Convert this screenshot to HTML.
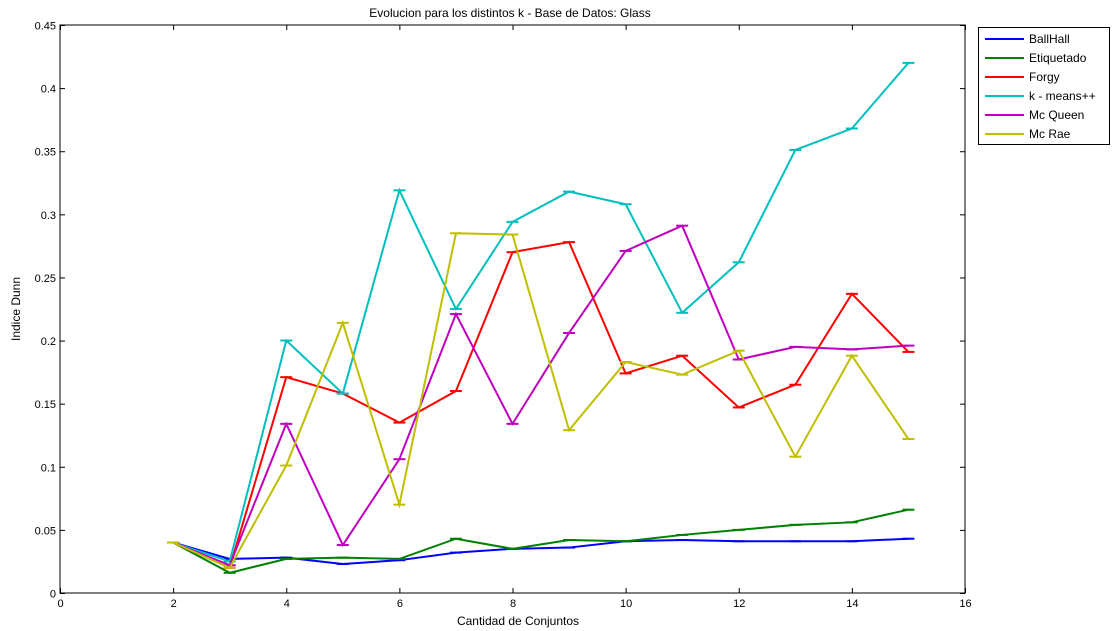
<!DOCTYPE html>
<html><head><meta charset="utf-8"><style>
body{margin:0;background:#fff;}
svg{display:block;font-family:"Liberation Sans",sans-serif;}
</style></head><body>
<svg id="chart" width="1113" height="631">
<rect x="0" y="0" width="1113" height="631" fill="#fff"/>
<text x="510" y="17" font-size="12" text-anchor="middle">Evolucion para los distintos k  - Base de Datos: Glass</text>
<text x="518" y="625" font-size="12" text-anchor="middle">Cantidad de Conjuntos</text>
<text x="20" y="309" font-size="12" text-anchor="middle" transform="rotate(-90 20 309)">Indice Dunn</text>
<g id="axes"></g>
<g id="series"></g>
<g id="legend"></g>
</svg>
<script>
const xs = [2,3,4,5,6,7,8,9,10,11,12,13,14,15];
const seriesNames = ["BallHall","Etiquetado","Forgy","k - means++","Mc Queen","Mc Rae"];
const seriesColors = ["#0000ff","#008000","#ff0000","#00bfbf","#bf00bf","#bfbf00"];
const ballHall = [0.040,0.027,0.028,0.023,0.026,0.032,0.035,0.036,0.041,0.042,0.041,0.041,0.041,0.043];
const etiquetado = [0.040,0.016,0.027,0.028,0.027,0.043,0.035,0.042,0.041,0.046,0.050,0.054,0.056,0.066];
const forgy = [0.040,0.020,0.171,0.158,0.135,0.160,0.270,0.278,0.174,0.188,0.147,0.165,0.237,0.191];
const kmeanspp = [0.040,0.025,0.200,0.158,0.319,0.225,0.294,0.318,0.308,0.222,0.262,0.351,0.368,0.420];
const mcQueen = [0.040,0.022,0.134,0.038,0.106,0.221,0.134,0.206,0.271,0.291,0.185,0.195,0.193,0.196];
const mcRae = [0.040,0.020,0.101,0.214,0.070,0.285,0.284,0.129,0.183,0.173,0.192,0.108,0.188,0.122];
const xTicks = [0,2,4,6,8,10,12,14,16];
const yTicks = [0,0.05,0.1,0.15,0.2,0.25,0.3,0.35,0.4,0.45];
const yTickLabels = ["0","0.05","0.1","0.15","0.2","0.25","0.3","0.35","0.4","0.45"];

const L=60,R=965,T=25,B=593;
const sx=v=>L+(v-0)/(16-0)*(R-L);
const sy=v=>B-(v-0)/(0.45-0)*(B-T);
const NS="http://www.w3.org/2000/svg";
function mk(tag,attrs,parent){const e=document.createElementNS(NS,tag);for(const k in attrs)e.setAttribute(k,attrs[k]);parent.appendChild(e);return e;}
const axes=document.getElementById('axes');
const frame=mk('rect',{x:L,y:T,width:R-L,height:B-T,fill:'none',stroke:'#000','stroke-width':1},axes);


xTicks.forEach(t=>{
  const x=sx(t)+0.5;
  mk('line',{x1:x,x2:x,y1:B,y2:B-5,stroke:'#000'},axes);
  mk('line',{x1:x,x2:x,y1:T,y2:T+5,stroke:'#000'},axes);
  const tx=mk('text',{x:x,y:B+14,'font-size':11,'text-anchor':'middle'},axes);
  tx.textContent=t;
  
  
});
yTicks.forEach((t,i)=>{
  const y=sy(t)+0.5;
  mk('line',{x1:L,x2:L+5,y1:y,y2:y,stroke:'#000'},axes);
  mk('line',{x1:R,x2:R-5,y1:y,y2:y,stroke:'#000'},axes);
  const tx=mk('text',{x:L-4,y:y+4,'font-size':11,'text-anchor':'end'},axes);
  tx.textContent=yTickLabels[i];
  
  
});
const data=[ballHall,etiquetado,forgy,kmeanspp,mcQueen,mcRae];
const sg=document.getElementById('series');
data.forEach((vals,si)=>{
  const g=mk('g',{},sg);
  
  
  const pts=vals.map((v,i)=>sx(xs[i])+','+sy(v)).join(' ');
  mk('polyline',{points:pts,fill:'none',stroke:seriesColors[si],'stroke-width':2},g);
  vals.forEach((v,i)=>{
    const x=sx(xs[i]),y=sy(v);
    const c=mk('line',{x1:x-6,x2:x+6,y1:y,y2:y,stroke:seriesColors[si],'stroke-width':2},g);
    
    
  });
});
const lg=document.getElementById('legend');
const box=mk('rect',{x:978.5,y:27.5,width:131,height:117,fill:'#fff',stroke:'#000'},lg);


seriesNames.forEach((n,i)=>{
  const y=39+i*19;
  const g=mk('g',{},lg);
  
  
  mk('line',{x1:985,x2:1024,y1:y,y2:y,stroke:seriesColors[i],'stroke-width':2},g);
  const t=mk('text',{x:1029,y:y+4,'font-size':12},g);
  t.textContent=n;
});
</script>
</body></html>
